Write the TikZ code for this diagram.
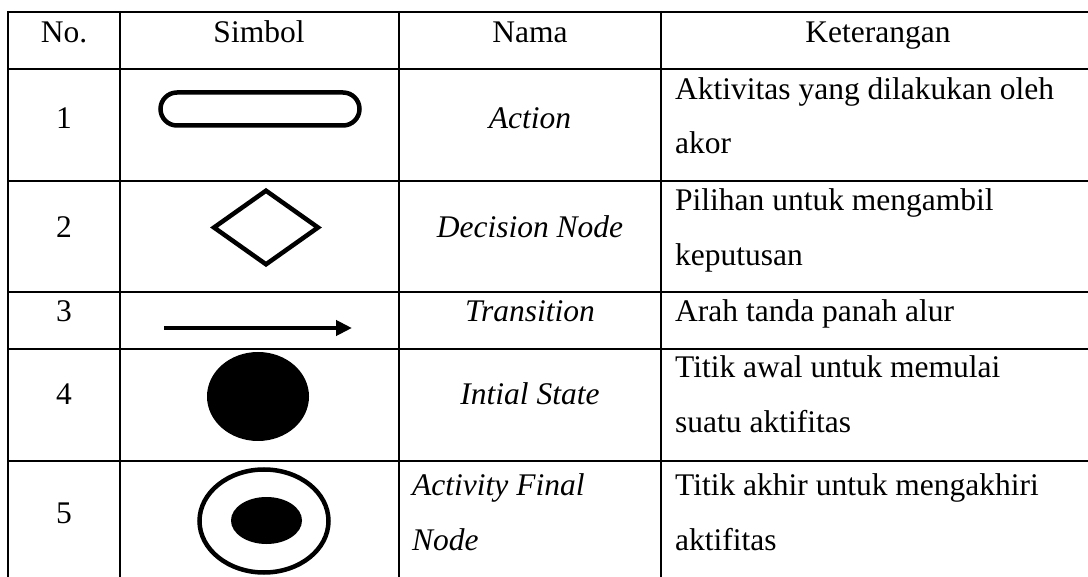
\documentclass[tikz,border=0pt]{standalone}
\usepackage{fontspec}
\setmainfont{Liberation Serif}
\usetikzlibrary{arrows.meta}
\begin{document}
\begin{tikzpicture}[x=1pt,y=-1pt,
  rulew/.style={line width=2pt},
  sym/.style={line width=4.5pt},
  txt/.style={font=\fontsize{31.5}{31.5}\selectfont, inner sep=0pt, anchor=base},
  ltxt/.style={txt, anchor=base west},
  itxt/.style={txt, font=\fontsize{31.5}{31.5}\selectfont\itshape},
  litxt/.style={itxt, anchor=base west}]
\useasboundingbox (0,0) rectangle (1088,577);

% table rules
\foreach \y in {12,69,181,292,349,461}
  \draw[rulew] (7,\y) -- (1088,\y);
\foreach \x in {8,119.5,399,661}
  \draw[rulew] (\x,11) -- (\x,577);

% header
\node[txt] (hno)   at (64,43)  {No.};
\node[txt] (hsym)  at (259,43) {Simbol};
\node[txt] (hname) at (530,43) {Nama};
\node[txt] (hdesc) at (878,43) {Keterangan};

% row 1: action
\node[txt]  (n1) at (64,129)  {1};
\draw[sym, rounded corners=16.5pt] (160.5,92.5) rectangle (359.5,125.5);
\node[itxt] (m1) at (530,129) {Action};
\node[ltxt] (d1a) at (675,100) {Aktivitas yang dilakukan oleh};
\node[ltxt] (d1b) at (675,154) {akor};

% row 2: decision node
\node[txt]  (n2) at (64,238)  {2};
\draw[sym] (214,227.5) -- (266,190.7) -- (318,227.5) -- (266,264.3) -- cycle;
\node[itxt] (m2) at (530,238) {Decision Node};
\node[ltxt] (d2a) at (675,211) {Pilihan untuk mengambil};
\node[ltxt] (d2b) at (675,266) {keputusan};

% row 3: transition
\node[txt]  (n3) at (64,322)  {3};
\coordinate (tA) at (164,328);
\coordinate (tB) at (352,328);
\draw[line width=4pt, -{Triangle[length=16pt,width=15pt]}] (tA) -- (tB);
\node[itxt] (m3) at (530,322) {Transition};
\node[ltxt] (d3a) at (675,322) {Arah tanda panah alur};

% row 4: initial state
\node[txt]  (n4) at (64,405)  {4};
\fill (258,396.5) ellipse [x radius=51, y radius=44.5];
\node[itxt] (m4) at (530,405) {Intial State};
\node[ltxt] (d4a) at (675,378) {Titik awal untuk memulai};
\node[ltxt] (d4b) at (675,432) {suatu aktifitas};

% row 5: activity final node
\node[txt]  (n5) at (64,523)  {5};
\draw[sym] (264,521) ellipse [x radius=64.5, y radius=51.5];
\fill (266.5,520.5) ellipse [x radius=35.5, y radius=23.5];
\node[litxt] (m5a) at (412,495) {Activity Final};
\node[litxt] (m5b) at (412,550) {Node};
\node[ltxt] (d5a) at (675,495) {Titik akhir untuk mengakhiri};
\node[ltxt] (d5b) at (675,550) {aktifitas};
\end{tikzpicture}
\end{document}
